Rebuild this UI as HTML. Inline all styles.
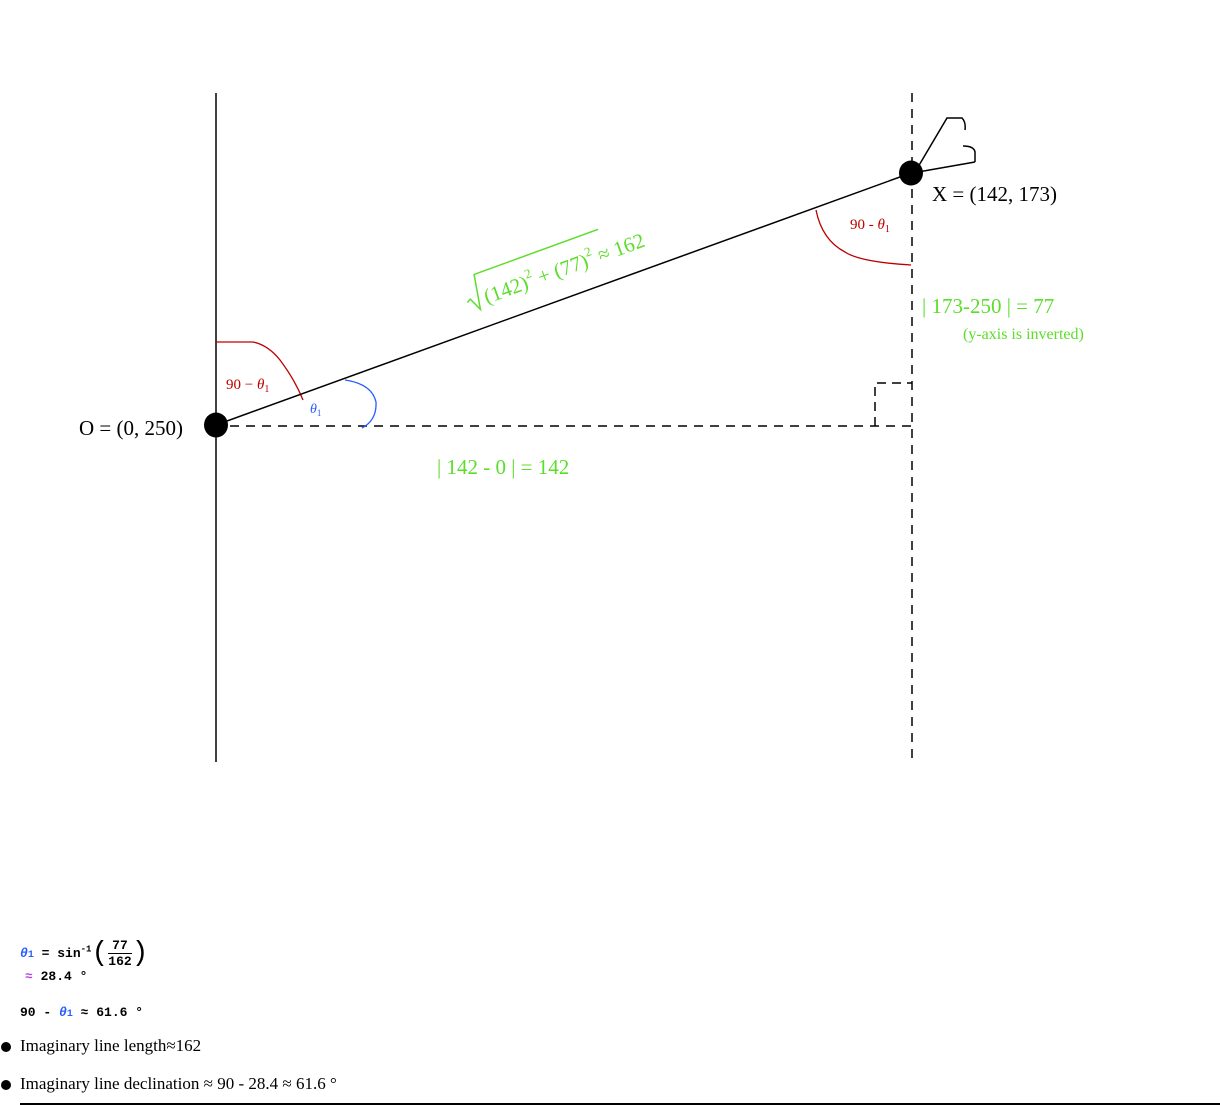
<!DOCTYPE html>
<html><head><meta charset="utf-8"><style>
html,body{margin:0;padding:0;background:#fff;width:1220px;height:1105px;overflow:hidden;}
svg{position:absolute;left:0;top:0;}
.m{font-family:"Liberation Mono",monospace;font-weight:bold;font-size:13px;position:absolute;}
.s{font-family:"Liberation Serif",serif;font-size:17px;position:absolute;}
.b{position:absolute;left:1px;width:10px;height:10px;border-radius:50%;background:#000;}
</style></head><body>
<svg width="1220" height="1105" id="svg">
<line x1="216" y1="93" x2="216" y2="762" stroke="#000" stroke-width="1.5"/>
<line x1="912" y1="93" x2="912" y2="762" stroke="#000" stroke-width="1.5" stroke-dasharray="9,7"/>
<line x1="230" y1="426" x2="918" y2="426" stroke="#000" stroke-width="1.5" stroke-dasharray="9,7"/>
<path d="M875 426 V383 H912" fill="none" stroke="#000" stroke-width="1.5" stroke-dasharray="9,6"/>
<path d="M216 342 H253 Q268 345 280 360 Q295 380 303 400" fill="none" stroke="#b00" stroke-width="1.3"/>
<path d="M345 380 Q372 384 376 402 Q377 420 362 428" fill="none" stroke="#2a5cff" stroke-width="1.3"/>
<path d="M816 210 Q822 240 845 252 Q860 262 911 265" fill="none" stroke="#b00" stroke-width="1.3"/>
<path d="M918 167 L947 118 H962 Q966 122 965 130 M963 146 Q974 146 975 152 V162 M918 172 L975 162" fill="none" stroke="#000" stroke-width="1.5"/>
<g font-family="Liberation Serif,serif">
<text x="79" y="435" font-size="21">O = (0, 250)</text>
<text x="932" y="201" font-size="21">X = (142, 173)</text>
<text x="226" y="389" font-size="15" fill="#b00">90 − <tspan font-style="italic">θ</tspan><tspan font-size="10" dy="3">1</tspan></text>
<text x="310" y="413" font-size="14" fill="#2a5cff"><tspan font-style="italic">θ</tspan><tspan font-size="9" dy="3">1</tspan></text>
<text x="850" y="229" font-size="15" fill="#b00">90 - <tspan font-style="italic">θ</tspan><tspan font-size="10" dy="3">1</tspan></text>
<text x="922" y="313" font-size="21" fill="#5cdd2a">| 173-250 | = 77</text>
<text x="963" y="339" font-size="16" fill="#5cdd2a">(y-axis is inverted)</text>
<text x="437" y="474" font-size="21" fill="#5cdd2a">| 142 - 0 | = 142</text>
<g transform="translate(470,310) rotate(-20)" fill="#5cdd2a">
<path d="M0 -8 L4 -10 L10 3 L16 -32 H148" fill="none" stroke="#5cdd2a" stroke-width="1.5"/>
<text x="18" y="0" font-size="21">(142)<tspan font-size="13" dy="-10">2</tspan><tspan dy="10"> + (77)</tspan><tspan font-size="13" dy="-10">2</tspan><tspan dy="10">  ≈  162</tspan></text>
</g>
</g>
</svg>
<div class="m" style="left:20px;top:938px"><span style="color:#2a5cff;font-style:italic">θ</span><span style="font-size:10px;color:#2a5cff">1</span> = sin<sup style="font-size:9px">-1</sup><span style="font-size:28px;font-weight:normal;vertical-align:middle">(</span><span style="display:inline-block;vertical-align:middle;text-align:center"><span style="display:block;border-bottom:1.5px solid #000">77</span><span style="display:block">162</span></span><span style="font-size:28px;font-weight:normal;vertical-align:middle">)</span></div>
<div class="m" style="left:25px;top:969px"><span style="color:#b04ae0">≈</span> 28.4 °</div>
<div class="m" style="left:20px;top:1005px">90 - <span style="color:#2a5cff;font-style:italic">θ</span><span style="font-size:10px;color:#2a5cff">1</span> ≈ 61.6 °</div>
<div class="b" style="top:1042px"></div>
<div class="s" style="left:20px;top:1036px">Imaginary line length≈162</div>
<div class="b" style="top:1080px"></div>
<div class="s" style="left:20px;top:1074px">Imaginary line declination ≈ 90 - 28.4 ≈ 61.6 °</div>
<div style="position:absolute;left:20px;top:1103px;width:1200px;height:1.5px;background:#000"></div>
<script>
const pointNames=["O","X"];
const pointX=[0,142];
const pointY=[250,173];
const sx=v=>216+v*(911-216)/142;
const sy=v=>425+(v-250)*(252/77);
const ns="http://www.w3.org/2000/svg";
const svg=document.getElementById('svg');
const ln=document.createElementNS(ns,'line');
ln.setAttribute('x1',sx(pointX[0]));ln.setAttribute('y1',sy(pointY[0]));
ln.setAttribute('x2',sx(pointX[1]));ln.setAttribute('y2',sy(pointY[1]));
ln.setAttribute('stroke','#000');ln.setAttribute('stroke-width','1.5');


svg.appendChild(ln);
for(let i=0;i<pointX.length;i++){
const c=document.createElementNS(ns,'ellipse');
c.setAttribute('cx',sx(pointX[i]));c.setAttribute('cy',sy(pointY[i]));
c.setAttribute('rx','12');c.setAttribute('ry','12.5');c.setAttribute('fill','#000');


svg.appendChild(c);
}
</script>
</body></html>
